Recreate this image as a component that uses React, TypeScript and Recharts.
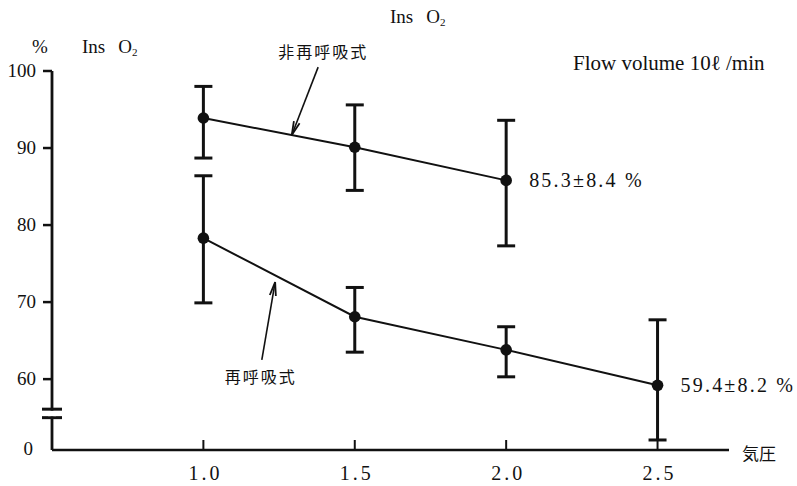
import React from 'react';
import { ComposedChart, Line, XAxis, YAxis, ErrorBar, LabelList, ReferenceLine } from 'recharts';

// 気圧 (ATA)
const PRESSURE = [1.0, 1.5, 2.0, 2.5];

// 非再呼吸式 Ins O2 (%)
const OPEN_MEAN = [93.9, 90.1, 85.8];
const OPEN_LOW = [88.7, 84.5, 77.3];
const OPEN_HIGH = [98.0, 95.6, 93.6];
const OPEN_NOTE = ['', '', '85.3±8.4 %'];

// 再呼吸式 Ins O2 (%)
const CLOSED_MEAN = [78.3, 68.1, 63.8, 59.2];
const CLOSED_LOW = [69.9, 63.5, 60.3, 52.1];
const CLOSED_HIGH = [86.4, 71.9, 66.8, 67.7];
const CLOSED_NOTE = ['', '', '', '59.4±8.2 %'];

// arrows pointing at the lines: [tail, tip] in data units
const OPEN_ARROW = [{ x: 1.379, y: 100.5 }, { x: 1.292, y: 91.7 }];
const CLOSED_ARROW = [{ x: 1.193, y: 62.5 }, { x: 1.237, y: 72.6 }];

const Y_TICKS = [60, 70, 80, 90, 100];
const Y_BREAK = [55.0, 56.1];
const X_DOMAIN: [number, number] = [0.5, 2.736];
const Y_DOMAIN: [number, number] = [50.8, 100];

const W = 797;
const H = 486;
const MARGIN = { top: 71, right: 68, bottom: 0, left: 0 };
const X_AXIS_H = 36;
const Y_AXIS_W = 52;
const PX_PER_Y = (H - MARGIN.top - X_AXIS_H) / (Y_DOMAIN[1] - Y_DOMAIN[0]);

const INK = '#111';
const SERIF = '"Liberation Serif", "Times New Roman", serif';
const CJK = '"Noto Sans CJK JP", sans-serif';

const build = (mean: number[], low: number[], high: number[], note: string[]) =>
  mean.map((m, i) => ({
    x: PRESSURE[i],
    mean: m,
    err: [+(m - low[i]).toFixed(2), +(high[i] - m).toFixed(2)],
    note: note[i],
  }));

const openData = build(OPEN_MEAN, OPEN_LOW, OPEN_HIGH, OPEN_NOTE);
const closedData = build(CLOSED_MEAN, CLOSED_LOW, CLOSED_HIGH, CLOSED_NOTE);

const YTick = (props: any) => {
  const { x, y, payload } = props;
  const v = payload.value;
  if (v === Y_BREAK[1]) {
    const gap = (Y_BREAK[1] - Y_BREAK[0]) * PX_PER_Y;
    return (
      <g>
        <rect x={x - 4} y={y + 1.5} width={8} height={gap - 3} fill="#fff" />
        <line x1={x - 10} x2={x + 10} y1={y} y2={y} stroke={INK} strokeWidth={3} />
      </g>
    );
  }
  if (v === Y_BREAK[0]) {
    return <line x1={x - 10} x2={x + 10} y1={y} y2={y} stroke={INK} strokeWidth={3} />;
  }
  if (v === Y_DOMAIN[0]) {
    return (
      <text x={x - 19} y={y + 5} textAnchor="end" fontFamily={SERIF} fontSize={19} fill={INK}>
        0
      </text>
    );
  }
  return (
    <g>
      <line x1={x - 9} x2={x} y1={y} y2={y} stroke={INK} strokeWidth={2.5} />
      <text x={x - 16} y={y + 6} textAnchor="end" fontFamily={SERIF} fontSize={19} fill={INK}>
        {v}
      </text>
    </g>
  );
};

const XTick = (props: any) => {
  const { x, y, payload } = props;
  return (
    <g>
      <line x1={x} x2={x} y1={y} y2={y - 10} stroke={INK} strokeWidth={2} />
      <text
        x={x + 2}
        y={y + 30}
        textAnchor="middle"
        fontFamily={SERIF}
        fontSize={20}
        letterSpacing={3}
        fill={INK}
      >
        {Number(payload.value).toFixed(1)}
      </text>
    </g>
  );
};

const arrowShape = (text: string, textDy: number, textDx: number) => (props: any) => {
  const { x1, y1, x2, y2 } = props;
  const ang = Math.atan2(y2 - y1, x2 - x1);
  const len = 14;
  const spread = 0.22;
  const a = `${x2 - len * Math.cos(ang - spread)},${y2 - len * Math.sin(ang - spread)}`;
  const b = `${x2 - len * Math.cos(ang + spread)},${y2 - len * Math.sin(ang + spread)}`;
  return (
    <g>
      <line x1={x1} y1={y1} x2={x2} y2={y2} stroke={INK} strokeWidth={1.6} />
      <polyline points={`${a} ${x2},${y2} ${b}`} fill="none" stroke={INK} strokeWidth={1.8} />
      <text
        x={x1 + textDx}
        y={y1 + textDy}
        textAnchor="middle"
        fontFamily={CJK}
        fontSize={16}
        letterSpacing={2}
        fill={INK}
      >
        {text}
      </text>
    </g>
  );
};

const NoteLabel = (props: any) => {
  const { value } = props;
  if (!value) return null;
  const x = props.viewBox?.x ?? props.x;
  const y = props.viewBox?.y ?? props.y;
  return (
    <text x={x + 23} y={y + 7} fontFamily={SERIF} fontSize={20} letterSpacing={2.2} fill={INK}>
      {value}
    </text>
  );
};

export default function App() {
  return (
    <div style={{ position: 'absolute', left: 0, top: 0, width: W, height: H, background: '#fff' }}>
      <ComposedChart width={W} height={H} margin={MARGIN}>
        <XAxis
          dataKey="x"
          type="number"
          domain={X_DOMAIN}
          ticks={PRESSURE}
          allowDataOverflow
          height={X_AXIS_H}
          interval={0}
          tickSize={0}
          tickMargin={0}
          tickLine={false}
          axisLine={{ stroke: INK, strokeWidth: 2.5 }}
          tick={<XTick />}
        />
        <YAxis
          type="number"
          domain={Y_DOMAIN}
          ticks={[Y_DOMAIN[0], ...Y_BREAK, ...Y_TICKS]}
          allowDataOverflow
          width={Y_AXIS_W}
          interval={0}
          tickSize={0}
          tickMargin={0}
          tickLine={false}
          axisLine={{ stroke: INK, strokeWidth: 2.8 }}
          tick={<YTick />}
        />

        <Line
          data={openData}
          dataKey="mean"
          stroke={INK}
          strokeWidth={2}
          dot={{ r: 5.8, fill: INK, stroke: INK, strokeWidth: 0 }}
          activeDot={false}
          isAnimationActive={false}
        >
          <ErrorBar dataKey="err" width={9} stroke={INK} strokeWidth={3} isAnimationActive={false} />
          <LabelList dataKey="note" content={<NoteLabel />} />
        </Line>
        <Line
          data={closedData}
          dataKey="mean"
          stroke={INK}
          strokeWidth={2}
          dot={{ r: 5.8, fill: INK, stroke: INK, strokeWidth: 0 }}
          activeDot={false}
          isAnimationActive={false}
        >
          <ErrorBar dataKey="err" width={9} stroke={INK} strokeWidth={3} isAnimationActive={false} />
          <LabelList dataKey="note" content={<NoteLabel />} />
        </Line>

        <ReferenceLine
          segment={OPEN_ARROW}
          ifOverflow="visible"
          shape={arrowShape('非再呼吸式', -9, 5)}
        />
        <ReferenceLine
          segment={CLOSED_ARROW}
          ifOverflow="visible"
          shape={arrowShape('再呼吸式', 23, -1)}
        />

        <text x={390} y={23} fontFamily={SERIF} fontSize={19} fill={INK}>
          <tspan>Ins</tspan>
          <tspan dx={13}>O</tspan>
          <tspan fontSize={11} dy={3}>2</tspan>
        </text>
        <text x={32} y={53} fontFamily={SERIF} fontSize={19} fill={INK}>%</text>
        <text x={82} y={53} fontFamily={SERIF} fontSize={19} fill={INK}>
          <tspan>Ins</tspan>
          <tspan dx={13}>O</tspan>
          <tspan fontSize={11} dy={3}>2</tspan>
        </text>
        <text x={573} y={70} fontFamily={SERIF} fontSize={21} fill={INK}>
          Flow volume 10ℓ /min
        </text>
        <text x={742} y={460} fontFamily={CJK} fontSize={17} fill={INK}>
          気圧
        </text>
      </ComposedChart>
    </div>
  );
}
